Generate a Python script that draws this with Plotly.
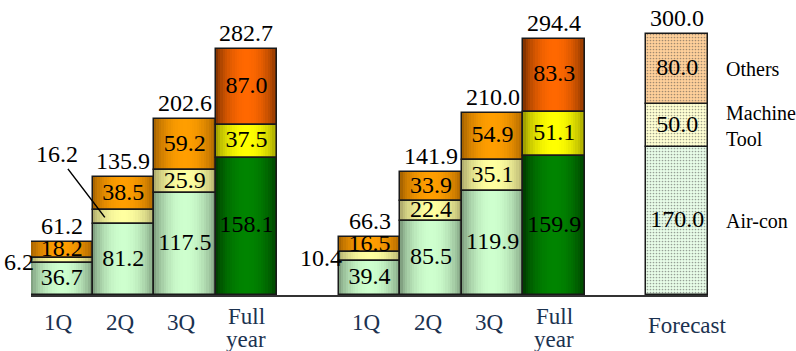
import math
import plotly.graph_objects as go

# ---- data -------------------------------------------------------------
periods = ["1Q", "2Q", "3Q", "Full\nyear"]

aircon_a = [36.7, 81.2, 117.5, 158.1]
machine_a = [6.2, 16.2, 25.9, 37.5]
others_a = [18.2, 38.5, 59.2, 87.0]
total_a = [61.2, 135.9, 202.6, 282.7]

aircon_b = [39.4, 85.5, 119.9, 159.9]
machine_b = [10.4, 22.4, 35.1, 51.1]
others_b = [16.5, 33.9, 54.9, 83.3]
total_b = [66.3, 141.9, 210.0, 294.4]

forecast_label = "Forecast"
forecast_aircon = 170.0
forecast_machine = 50.0
forecast_others = 80.0
forecast_total = 300.0

series_names = ["Air-con", "Machine<br>Tool", "Others"]

# ---- styling ----------------------------------------------------------
SERIF = "Liberation Serif"
NAVY = "#1b3250"
OUTLINE = "#1a1a1a"

# (edge colour, centre colour) for the shaded cylinders
PAL_Q = {
    "air": ((112, 140, 112), (206, 255, 206)),
    "mac": ((160, 156, 100), (255, 255, 160)),
    "oth": ((150, 88, 0), (255, 158, 0)),
}
PAL_FY = {
    "air": ((0, 48, 0), (0, 132, 0)),
    "mac": ((140, 140, 0), (255, 255, 0)),
    "oth": ((105, 40, 0), (255, 104, 0)),
}

# ---- slot layout: two groups of four, a spacer, then the forecast ----
n = len(periods)
x_hist = list(range(n)) + [n + 1 + i for i in range(n)]
x_fc = 2 * n + 2
full_flags = [p.startswith("Full") for p in periods] * 2

air = aircon_a + aircon_b
mac = machine_a + machine_b
oth = others_a + others_b
totals = total_a + total_b

base_air = [0.0] * len(air)
base_mac = air[:]
base_oth = [a + m for a, m in zip(air, mac)]
tops = [b + o for b, o in zip(base_oth, oth)]


def shade(edge, centre, t):
    f = math.sin(math.pi * t) ** 0.6
    return "rgb(%d,%d,%d)" % tuple(round(e + (c - e) * f) for e, c in zip(edge, centre))


fig = go.Figure()

# shaded strips, painted left to right so each one covers the rest of the bar
N = 26
for key, vals, bases in (("air", air, base_air), ("mac", mac, base_mac), ("oth", oth, base_oth)):
    for k in range(N):
        t = (k + 0.5) / N
        cols = [shade(*(PAL_FY[key] if fy else PAL_Q[key]), t) for fy in full_flags]
        fig.add_trace(go.Bar(
            x=x_hist, y=vals, base=bases,
            width=1 - k / N, offset=-0.5 + k / N,
            marker=dict(color=cols, line=dict(width=0)),
            hoverinfo="skip", showlegend=False,
        ))

# segment outlines
fig.add_trace(go.Bar(
    x=x_hist * 3, y=air + mac + oth, base=base_air + base_mac + base_oth,
    width=1, offset=-0.5,
    marker=dict(color="rgba(0,0,0,0)", line=dict(color=OUTLINE, width=1.5)),
    hoverinfo="skip", showlegend=False,
))

# forecast bar with dotted fills
fc_vals = [forecast_aircon, forecast_machine, forecast_others]
fc_base = [0.0, forecast_aircon, forecast_aircon + forecast_machine]
fig.add_trace(go.Bar(
    x=[x_fc] * 3, y=fc_vals, base=fc_base, width=1, offset=-0.5,
    marker=dict(
        color=["#e8fde8", "#ffffd2", "#ffd09a"],
        line=dict(color=OUTLINE, width=1.5),
        pattern=dict(shape=".", size=3, solidity=0.25,
                     fgcolor=["#d4f4d4", "#f6f2bc", "#ffa850"],
                     bgcolor=["#e8fde8", "#ffffd2", "#ffd09a"]),
    ),
    hoverinfo="skip", showlegend=False,
))

# ---- value labels inside the segments --------------------------------
lx, ly, lt = [], [], []
for i, x in enumerate(x_hist):
    lx.append(x); ly.append(air[i] / 2); lt.append(f"{air[i]:.1f}")
    lx.append(x); ly.append(base_oth[i] + oth[i] / 2); lt.append(f"{oth[i]:.1f}")
    if mac[i] >= 20:
        lx.append(x); ly.append(base_mac[i] + mac[i] / 2); lt.append(f"{mac[i]:.1f}")
for v, b in zip(fc_vals, fc_base):
    lx.append(x_fc); ly.append(b + v / 2); lt.append(f"{v:.1f}")

fig.add_trace(go.Scatter(
    x=lx, y=ly, text=lt, mode="text", textposition="middle center",
    textfont=dict(family=SERIF, size=24, color="black"),
    hoverinfo="skip", showlegend=False, cliponaxis=False,
))

annotations = []

# thin machine-tool segments: label to the left, or with a leader line
for i, x in enumerate(x_hist):
    if mac[i] < 12:
        annotations.append(dict(
            x=x - 0.5, y=base_mac[i] + mac[i] / 2, xref="x", yref="y",
            text=f"{mac[i]:.1f}", showarrow=False, xanchor="right", xshift=5,
            yshift=-2, font=dict(family=SERIF, size=24, color="black"),
        ))
    elif mac[i] < 20:
        annotations.append(dict(
            x=x - 0.3, y=base_mac[i] + mac[i] / 2, xref="x", yref="y",
            text=f"{mac[i]:.1f}", showarrow=True, arrowhead=0, arrowwidth=1.5,
            arrowcolor="black", ax=-48, ay=-63, standoff=0,
            font=dict(family=SERIF, size=24, color="black"),
        ))

# stack totals
for x, top, tot in zip(x_hist + [x_fc], tops + [sum(fc_vals)], totals + [forecast_total]):
    annotations.append(dict(
        x=x, y=top, xref="x", yref="y", text=f"{tot:.1f}", showarrow=False,
        yanchor="bottom", yshift=1,
        font=dict(family=SERIF, size=24, color="black"),
    ))

# category labels under the axis
for x, p in zip(x_hist, periods * 2):
    lines = p.split("\n")
    if len(lines) == 1:
        annotations.append(dict(x=x, y=0, xref="x", yref="paper", text=lines[0],
                                showarrow=False, yanchor="middle", yshift=-27, xshift=-3,
                                font=dict(family=SERIF, size=23, color=NAVY)))
    else:
        for j, ln in enumerate(lines):
            annotations.append(dict(x=x, y=0, xref="x", yref="paper", text=ln,
                                    showarrow=False, yanchor="middle", yshift=-21 - 23 * j,
                                    font=dict(family=SERIF, size=23, color=NAVY)))
annotations.append(dict(x=x_fc, y=0, xref="x", yref="paper", text=forecast_label,
                        showarrow=False, yanchor="middle", yshift=-30, xshift=10,
                        font=dict(family=SERIF, size=23, color=NAVY)))

# series names beside the forecast bar
for name, v, b in zip(series_names, fc_vals, fc_base):
    annotations.append(dict(x=x_fc + 0.5, y=b + v / 2, xref="x", yref="y",
                            text=name, showarrow=False, xanchor="left", align="left",
                            xshift=16, font=dict(family=SERIF, size=20, color="black")))

fig.update_layout(
    width=796, height=351,
    margin=dict(l=31, r=88, t=0, b=56),
    barmode="overlay", bargap=0,
    plot_bgcolor="white", paper_bgcolor="white",
    showlegend=False, annotations=annotations,
    font=dict(family=SERIF, size=23, color="black"),
)
fig.update_xaxes(range=[-0.5, 10.5], showgrid=False, zeroline=False,
                 showticklabels=False, ticks="", showline=True,
                 linecolor="#333333", linewidth=1.5)
fig.update_yaxes(range=[0, 339.5], visible=False)

fig.write_html("out.html")
